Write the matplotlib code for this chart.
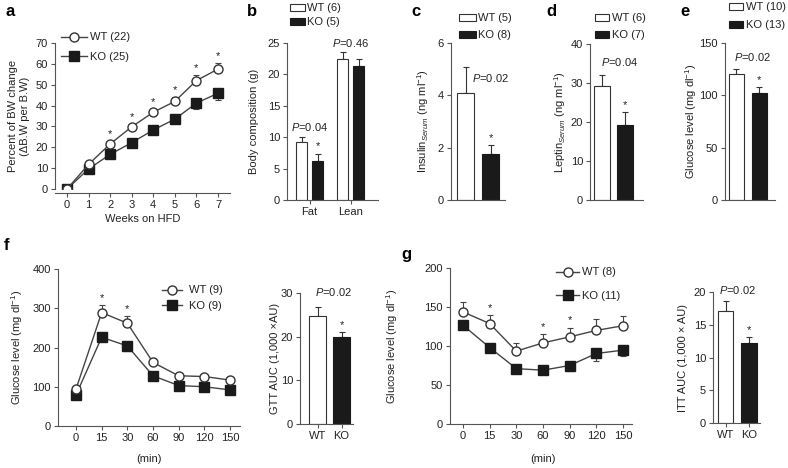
import numpy as np
import matplotlib
matplotlib.use('Agg')
import matplotlib.pyplot as plt
from matplotlib.lines import Line2D
from matplotlib.patches import Patch

plt.rcParams['font.family'] = ['Liberation Sans', 'DejaVu Sans']
plt.rcParams['mathtext.fontset'] = 'custom'
plt.rcParams['mathtext.rm'] = 'Liberation Sans'
plt.rcParams['mathtext.it'] = 'Liberation Sans:italic'
plt.rcParams['mathtext.bf'] = 'Liberation Sans:bold'

# ---------------- data ----------------
# panel a
a_weeks = [0, 1, 2, 3, 4, 5, 6, 7]
a_wt = [0, 11.8, 21.6, 29.8, 36.8, 42.0, 52.0, 57.5]
a_wt_err = [0, 0.8, 1.2, 1.5, 1.5, 2.0, 2.8, 2.8]
a_ko = [0, 9.6, 16.6, 22.2, 28.3, 33.5, 41.2, 45.9]
a_ko_err = [0, 0.8, 1.0, 1.2, 1.5, 2.0, 2.8, 3.0]
a_star = [0, 0, 1, 1, 1, 1, 1, 1]
# panel b
b_groups = ['Fat', 'Lean']
b_wt = [9.2, 22.4]
b_wt_err = [0.8, 1.1]
b_ko = [6.2, 21.3]
b_ko_err = [1.2, 1.1]
# panel c
c_vals = [4.1, 1.75]
c_err = [1.0, 0.35]
# panel d
d_vals = [29.3, 19.2]
d_err = [2.8, 3.4]
# panel e
e_vals = [120.5, 102.5]
e_err = [5.0, 5.0]
# panel f
t_labels = ['0', '15', '30', '60', '90', '120', '150']
f_wt = [94, 289, 262, 162, 128, 126, 117]
f_wt_err = [4, 20, 19, 12, 6, 4, 6]
f_ko = [79, 226, 204, 128, 103, 100, 92]
f_ko_err = [3, 6, 12, 4, 3, 3, 3]
f_star = [0, 1, 1, 0, 0, 0, 0]
gtt_vals = [24.7, 20.0]
gtt_err = [2.0, 1.1]
# panel g
g_wt = [143.7, 128.8, 93.4, 104.0, 111.7, 120.0, 126.0]
g_wt_err = [13, 10.5, 10, 11, 12, 14, 12]
g_ko = [126.6, 98.0, 71.0, 69.0, 75.0, 90.4, 94.7]
g_ko_err = [5, 3, 2, 4, 7, 9, 8]
g_star = [0, 1, 0, 1, 1, 0, 0]
itt_vals = [17.1, 12.2]
itt_err = [1.5, 0.9]

# ---------------- style ----------------
FIG_W, FIG_H = 788, 468
FS = 8
AX_C = '#555555'
TXT_C = '#222222'
DARK = '#1a1a1a'
LINE_C = '#444444'

fig = plt.figure(figsize=(FIG_W / 100, FIG_H / 100), dpi=100)


def make_ax(left, top, right, bottom):
    return fig.add_axes([left / FIG_W, 1 - bottom / FIG_H,
                         (right - left) / FIG_W, (bottom - top) / FIG_H])


def style(ax):
    for s in ['top', 'right']:
        ax.spines[s].set_visible(False)
    for s in ['left', 'bottom']:
        ax.spines[s].set_color(AX_C)
        ax.spines[s].set_linewidth(0.8)
    ax.tick_params(direction='out', length=3, width=0.8, color=AX_C,
                   labelsize=FS, labelcolor=TXT_C, pad=2)
    ax.patch.set_visible(False)


def px2ax(ax, xpx, ypx):
    x0, y0, w, h = ax.get_position().bounds
    return ((xpx / FIG_W - x0) / w, ((1 - ypx / FIG_H) - y0) / h)


def ylabel(ax, text, xpx, ypx=None):
    ax.set_ylabel(text, fontsize=FS, color=TXT_C, va='center', ha='center',
                  multialignment='center')
    if ypx is None:
        x0, y0, w, h = ax.get_position().bounds
        ypx = (1 - (y0 + h / 2)) * FIG_H
    ax.yaxis.set_label_coords(*px2ax(ax, xpx, ypx))


def panel_letter(ch, xpx, ypx):
    fig.text(xpx / FIG_W, 1 - ypx / FIG_H, ch, fontsize=12, fontweight='bold',
             ha='center', va='center', color='black')


def star(ax, x, y):
    ax.annotate('*', xy=(x, y), xytext=(0, 1.5), textcoords='offset points',
                ha='center', va='bottom', fontsize=FS, color=TXT_C)


def legend_at(ax, handles, labels, left_px, first_center_px, spacing_px,
              handlelength=1.6, handleheight=0.7, handletextpad=0.3):
    fs_px = FS * 100 / 72
    ls = (spacing_px - fs_px) / fs_px
    top_px = first_center_px - fs_px / 2 - 1
    ax.legend(handles, labels, loc='upper left',
              bbox_to_anchor=(left_px / FIG_W, 1 - top_px / FIG_H),
              bbox_transform=fig.transFigure, frameon=False, fontsize=FS,
              borderpad=0, borderaxespad=0, labelspacing=ls,
              handlelength=handlelength, handleheight=handleheight,
              handletextpad=handletextpad, labelcolor=TXT_C)


def line_handles():
    hw = Line2D([], [], color=LINE_C, lw=1, marker='o', ms=6.5,
                mfc='white', mec='#333333', mew=1)
    hk = Line2D([], [], color=LINE_C, lw=1, marker='s', ms=6.5,
                mfc=DARK, mec=DARK)
    return hw, hk


def bar_handles():
    return (Patch(facecolor='white', edgecolor='#333333', lw=0.8),
            Patch(facecolor=DARK, edgecolor=DARK, lw=0.8))


def line_panel(ax, x, wt, wt_err, ko, ko_err, stars):
    x = np.asarray(x, dtype=float)
    z = np.zeros(len(x))
    ax.errorbar(x, ko, yerr=[ko_err, z], fmt='none', ecolor=LINE_C,
                elinewidth=0.8, capsize=2.2, capthick=0.8, zorder=2)
    ax.plot(x, ko, color=LINE_C, lw=1, marker='s', ms=6.5, mfc=DARK,
            mec=DARK, zorder=3)
    ax.errorbar(x, wt, yerr=[z, wt_err], fmt='none', ecolor=LINE_C,
                elinewidth=0.8, capsize=2.2, capthick=0.8, zorder=2)
    ax.plot(x, wt, color=LINE_C, lw=1, marker='o', ms=6.5, mfc='white',
            mec='#333333', mew=1, zorder=4)
    for xi, yi, ei, s in zip(x, wt, wt_err, stars):
        if s:
            star(ax, xi, yi + ei)


def two_bars(ax, vals, errs, width, ko_star=True):
    x = np.arange(2)
    ax.bar(x, vals, width=width, color=['white', DARK],
           edgecolor=['#333333', DARK], linewidth=0.8, zorder=2)
    ax.errorbar(x, vals, yerr=[np.zeros(2), errs], fmt='none',
                ecolor='#333333', elinewidth=0.8, capsize=2.2,
                capthick=0.8, zorder=1)
    if ko_star:
        star(ax, 1, vals[1] + errs[1])


def bar_ax(spine, right, top, bottom, c0, c1, wpx):
    ax = make_ax(spine, top, right, bottom)
    d = c1 - c0
    ax.set_xlim((spine - c0) / d, (right - c0) / d)
    style(ax)
    return ax, wpx / d


# ---------------- panel a ----------------
ax = make_ax(55, 43, 230, 189)
style(ax)
step = (218 - 67) / 7
ax.set_xlim((55 - 67) / step, (230 - 67) / step)
ax.set_ylim(0, 70)
ax.spines['bottom'].set_position(('outward', 3))
ax.spines['left'].set_bounds(0, 70)
line_panel(ax, a_weeks, a_wt, a_wt_err, a_ko, a_ko_err, a_star)
ax.set_xticks(a_weeks)
ax.set_yticks(range(0, 71, 10))
ax.set_xlabel('Weeks on HFD', fontsize=FS, color=TXT_C, labelpad=3)
ylabel(ax, 'Percent of BW change\n(\u0394B.W per B.W)', 19)
legend_at(ax, line_handles(), ['WT (22)', 'KO (25)'], 61, 39, 21,
          handlelength=2.3, handletextpad=0.3)
panel_letter('a', 10, 11)

# ---------------- panel b ----------------
ax = make_ax(287, 43, 378, 200)
style(ax)
d = 350.5 - 309.5
ax.set_xlim((287 - 309.5) / d, (378 - 309.5) / d)
ax.set_ylim(0, 25)
bw = 11 / d
off = 8 / d
xb = np.arange(2)
ax.bar(xb - off, b_wt, width=bw, color='white', edgecolor='#333333', lw=0.8, zorder=2)
ax.bar(xb + off, b_ko, width=bw, color=DARK, edgecolor=DARK, lw=0.8, zorder=2)
ax.errorbar(xb - off, b_wt, yerr=[np.zeros(2), b_wt_err], fmt='none',
            ecolor='#333333', elinewidth=0.8, capsize=2.2, capthick=0.8, zorder=1)
ax.errorbar(xb + off, b_ko, yerr=[np.zeros(2), b_ko_err], fmt='none',
            ecolor='#333333', elinewidth=0.8, capsize=2.2, capthick=0.8, zorder=1)
star(ax, 0 + off, b_ko[0] + b_ko_err[0])
ax.set_xticks(xb)
ax.set_xticklabels(b_groups)
ax.set_yticks(range(0, 26, 5))
ax.text(0, 11.7, r'$P$=0.04', ha='center', va='center', fontsize=FS, color=TXT_C)
ax.text(1, 25.0, r'$P$=0.46', ha='center', va='center', fontsize=FS, color=TXT_C)
ylabel(ax, 'Body composition (g)', 254)
legend_at(ax, bar_handles(), ['WT (6)', 'KO (5)'], 290, 10, 15,
          handlelength=1.35, handleheight=0.6, handletextpad=0.2)
panel_letter('b', 252, 11)

# ---------------- panel c ----------------
ax, w = bar_ax(451, 505, 43, 200, 465.5, 490.5, 17)
ax.set_ylim(0, 6)
two_bars(ax, c_vals, c_err, w)
ax.set_xticks([])
ax.set_yticks([0, 2, 4, 6])
ax.text(1.02, 4.66, r'$P$=0.02', ha='center', va='center', fontsize=FS, color=TXT_C)
ylabel(ax, r'Insulin$_{\mathit{Serum}}$ (ng ml$^{-1}$)', 423)
legend_at(ax, bar_handles(), ['WT (5)', 'KO (8)'], 459, 20, 18,
          handlelength=1.55, handleheight=0.6, handletextpad=0.2)
panel_letter('c', 416, 11)

# ---------------- panel d ----------------
ax, w = bar_ax(590, 643, 44, 200, 602, 625, 16)
ax.set_ylim(0, 40)
two_bars(ax, d_vals, d_err, w)
ax.set_xticks([])
ax.set_yticks(range(0, 41, 10))
ax.text(0.78, 35.5, r'$P$=0.04', ha='center', va='center', fontsize=FS, color=TXT_C)
ylabel(ax, r'Leptin$_{\mathit{Serum}}$ (ng ml$^{-1}$)', 560)
legend_at(ax, bar_handles(), ['WT (6)', 'KO (7)'], 595, 20, 18,
          handlelength=1.3, handleheight=0.6, handletextpad=0.25)
panel_letter('d', 551, 11)

# ---------------- panel e ----------------
ax, w = bar_ax(725, 775, 43, 200, 736, 759, 15)
ax.set_ylim(0, 150)
two_bars(ax, e_vals, e_err, w)
ax.set_xticks([])
ax.set_yticks([0, 50, 100, 150])
ax.text(0.7, 136.6, r'$P$=0.02', ha='center', va='center', fontsize=FS, color=TXT_C)
ylabel(ax, r'Glucose level (mg dl$^{-1}$)', 691)
legend_at(ax, bar_handles(), ['WT (10)', 'KO (13)'], 729, 9, 19,
          handlelength=1.3, handleheight=0.6, handletextpad=0.25)
panel_letter('e', 685, 11)

# ---------------- panel f ----------------
ax = make_ax(58, 269, 240, 426)
style(ax)
step = (230 - 76) / 6
ax.set_xlim((58 - 76) / step, (240 - 76) / step)
ax.set_ylim(0, 400)
xi = np.arange(len(t_labels))
line_panel(ax, xi, f_wt, f_wt_err, f_ko, f_ko_err, f_star)
ax.set_xticks(xi)
ax.set_xticklabels(t_labels)
ax.set_yticks(range(0, 401, 100))
ax.set_xlabel('(min)', fontsize=FS, color=TXT_C)
ax.xaxis.set_label_coords(*px2ax(ax, 149, 454))
ylabel(ax, r'Glucose level (mg dl$^{-1}$)', 17)
legend_at(ax, line_handles(), ['WT (9)', 'KO (9)'], 162, 292, 17,
          handlelength=1.8, handletextpad=0.6)
panel_letter('f', 6, 246)

# GTT AUC
ax, w = bar_ax(300, 353, 293, 424, 317.5, 341.5, 17)
ax.set_ylim(0, 30)
two_bars(ax, gtt_vals, gtt_err, w)
ax.set_xticks([0, 1])
ax.set_xticklabels(['WT', 'KO'])
ax.set_yticks([0, 10, 20, 30])
ax.text(0.65, 30.3, r'$P$=0.02', ha='center', va='center', fontsize=FS, color=TXT_C)
ylabel(ax, 'GTT AUC (1,000 \u00d7AU)', 275)

# ---------------- panel g ----------------
ax = make_ax(450, 268, 632, 424)
style(ax)
step = (623 - 463) / 6
ax.set_xlim((450 - 463) / step, (632 - 463) / step)
ax.set_ylim(0, 200)
line_panel(ax, xi, g_wt, g_wt_err, g_ko, g_ko_err, g_star)
ax.set_xticks(xi)
ax.set_xticklabels(t_labels)
ax.set_yticks(range(0, 201, 50))
ax.set_xlabel('(min)', fontsize=FS, color=TXT_C)
ax.xaxis.set_label_coords(*px2ax(ax, 543, 454))
ylabel(ax, r'Glucose level (mg dl$^{-1}$)', 392)
legend_at(ax, line_handles(), ['WT (8)', 'KO (11)'], 556, 274, 25,
          handlelength=2.1, handletextpad=0.25)
panel_letter('g', 406, 255)

# ITT AUC
ax, w = bar_ax(713, 760, 292, 423, 725.5, 749, 15.5)
ax.set_ylim(0, 20)
two_bars(ax, itt_vals, itt_err, w)
ax.set_xticks([0, 1])
ax.set_xticklabels(['WT', 'KO'])
ax.set_yticks([0, 5, 10, 15, 20])
ax.text(0.49, 20.3, r'$P$=0.02', ha='center', va='center', fontsize=FS, color=TXT_C)
ylabel(ax, 'ITT AUC (1,000 \u00d7 AU)', 683)

fig.savefig('out.png', dpi=100, facecolor='white')
